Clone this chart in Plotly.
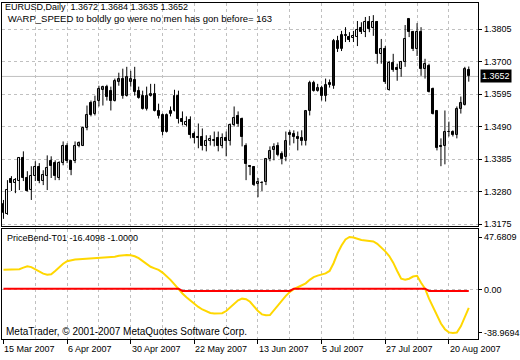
import plotly.graph_objects as go
import pandas as pd

# ---------------- data ----------------
symbol = "EURUSD,Daily"
dates = pd.bdate_range("2007-03-15", periods=118)

opens = [1.3211,1.3208,1.3320,1.3307,1.3314,1.3388,1.3324,1.3285,1.3330,1.3359,
         1.3314,1.3330,1.3378,1.3372,1.3324,1.3372,1.3429,1.3378,1.3378,1.3429,
         1.3429,1.3484,1.3567,1.3532,1.3574,1.3609,1.3619,1.3606,1.3574,1.3635,
         1.3645,1.3590,1.3635,1.3642,1.3606,1.3590,1.3548,1.3590,1.3596,1.3542,
         1.3526,1.3474,1.3532,1.3542,1.3590,1.3516,1.3494,1.3510,1.3465,1.3458,
         1.3455,1.3429,1.3445,1.3445,1.3452,1.3429,1.3452,1.3442,1.3494,1.3523,
         1.3516,1.3429,1.3362,1.3359,1.3304,1.3307,1.3311,1.3385,1.3413,1.3426,
         1.3401,1.3391,1.3468,1.3465,1.3455,1.3452,1.3442,1.3542,1.3632,1.3606,
         1.3616,1.3590,1.3632,1.3622,1.3766,1.3741,1.3786,1.3779,1.3776,1.3779,
         1.3808,1.3795,1.3827,1.3808,1.3827,1.3725,1.3741,1.3609,1.3696,1.3680,
         1.3677,1.3699,1.3837,1.3795,1.3741,1.3795,1.3677,1.3686,1.3612,1.3539,
         1.3426,1.3426,1.3471,1.3474,1.3462,1.3548,1.3561,1.3672]

highs = [1.3253,1.3317,1.3330,1.3324,1.3391,1.3410,1.3346,1.3362,1.3378,1.3372,
         1.3349,1.3397,1.3394,1.3381,1.3378,1.3442,1.3436,1.3381,1.3442,1.3442,
         1.3490,1.3558,1.3574,1.3590,1.3622,1.3622,1.3625,1.3619,1.3645,1.3664,
         1.3677,1.3683,1.3670,1.3683,1.3619,1.3606,1.3619,1.3628,1.3628,1.3564,
         1.3532,1.3532,1.3555,1.3609,1.3606,1.3539,1.3523,1.3523,1.3474,1.3500,
         1.3484,1.3462,1.3462,1.3474,1.3474,1.3468,1.3474,1.3500,1.3555,1.3539,
         1.3519,1.3436,1.3365,1.3362,1.3324,1.3314,1.3388,1.3426,1.3436,1.3439,
         1.3410,1.3474,1.3478,1.3478,1.3474,1.3478,1.3542,1.3638,1.3638,1.3628,
         1.3622,1.3645,1.3642,1.3773,1.3783,1.3799,1.3811,1.3795,1.3799,1.3831,
         1.3827,1.3844,1.3847,1.3850,1.3831,1.3773,1.3750,1.3702,1.3725,1.3693,
         1.3702,1.3818,1.3837,1.3799,1.3824,1.3811,1.3709,1.3693,1.3616,1.3539,
         1.3452,1.3542,1.3506,1.3478,1.3555,1.3587,1.3683,1.3684]

lows = [1.3192,1.3205,1.3282,1.3275,1.3285,1.3314,1.3280,1.3253,1.3314,1.3307,
        1.3301,1.3285,1.3324,1.3317,1.3317,1.3365,1.3372,1.3333,1.3372,1.3423,
        1.3427,1.3478,1.3523,1.3526,1.3555,1.3558,1.3574,1.3542,1.3571,1.3622,
        1.3580,1.3587,1.3619,1.3590,1.3580,1.3545,1.3542,1.3587,1.3539,1.3516,
        1.3462,1.3471,1.3523,1.3539,1.3500,1.3494,1.3490,1.3452,1.3436,1.3420,
        1.3413,1.3410,1.3429,1.3426,1.3410,1.3420,1.3394,1.3429,1.3490,1.3490,
        1.3426,1.3317,1.3333,1.3298,1.3262,1.3282,1.3301,1.3378,1.3381,1.3394,
        1.3368,1.3378,1.3429,1.3436,1.3413,1.3429,1.3429,1.3526,1.3603,1.3603,
        1.3574,1.3571,1.3616,1.3612,1.3731,1.3734,1.3763,1.3763,1.3763,1.3750,
        1.3789,1.3779,1.3795,1.3783,1.3693,1.3693,1.3628,1.3606,1.3667,1.3638,
        1.3651,1.3683,1.3779,1.3734,1.3718,1.3654,1.3645,1.3600,1.3529,1.3413,
        1.3362,1.3368,1.3458,1.3458,1.3452,1.3532,1.3558,1.3635]

closes = [1.3240,1.3285,1.3307,1.3317,1.3388,1.3324,1.3282,1.3330,1.3359,1.3314,
          1.3333,1.3356,1.3362,1.3330,1.3372,1.3429,1.3378,1.3349,1.3429,1.3436,
          1.3484,1.3526,1.3526,1.3571,1.3612,1.3619,1.3587,1.3574,1.3638,1.3645,
          1.3590,1.3651,1.3645,1.3603,1.3584,1.3548,1.3590,1.3596,1.3542,1.3523,
          1.3474,1.3526,1.3539,1.3590,1.3516,1.3506,1.3506,1.3462,1.3452,1.3452,
          1.3429,1.3442,1.3449,1.3447,1.3429,1.3452,1.3445,1.3494,1.3519,1.3500,
          1.3455,1.3368,1.3359,1.3301,1.3311,1.3309,1.3385,1.3410,1.3423,1.3397,
          1.3385,1.3442,1.3462,1.3455,1.3449,1.3442,1.3539,1.3632,1.3606,1.3616,
          1.3590,1.3625,1.3625,1.3766,1.3741,1.3786,1.3783,1.3770,1.3783,1.3802,
          1.3795,1.3827,1.3805,1.3827,1.3725,1.3741,1.3635,1.3696,1.3673,1.3673,
          1.3699,1.3773,1.3795,1.3741,1.3795,1.3677,1.3693,1.3603,1.3532,1.3420,
          1.3423,1.3474,1.3474,1.3462,1.3548,1.3567,1.3677,1.3652]

# PriceBend-T01 buffers
bend = [18.2,18.2,18.2,18.3,18.6,20.0,21.3,20.5,18.5,16.5,
        14.6,13.6,14.0,17.0,20.5,23.5,25.8,26.9,27.3,27.6,
        27.8,28.0,28.2,28.4,28.6,28.9,29.2,29.5,29.9,30.7,
        31.3,31.5,31.2,30.3,28.6,25.8,22.8,20.8,19.4,18.0,
        15.5,12.3,9.0,4.8,0.5,-3.3,-6.8,-9.9,-12.8,-15.5,
        -17.8,-19.5,-21.0,-21.4,-21.4,-21.2,-19.2,-15.8,-12.3,-9.5,
        -8.0,-8.5,-10.8,-15.0,-19.3,-22.2,-23.0,-22.8,-18.5,-13.5,
        -9.5,-5.5,-2.0,0.6,2.3,3.8,5.8,9.0,11.5,12.8,
        13.7,14.8,17.0,24.0,33.0,40.0,45.5,47.6809,47.2,45.8,
        45.0,44.6,44.2,43.7,41.5,38.5,34.7,30.5,24.5,17.0,
        10.0,9.0,10.0,12.0,12.6,6.3,1.0,-8.0,-16.0,-24.0,
        -30.5,-35.6,-38.5,-38.9694,-38.7,-33.0,-24.5,-16.4098]

signal = [1,1,1,1,1,1,1,1,1,1, 1,1,1,1,1,1,1,1,1,1,
          1,1,1,1,1,1,1,1,1,1, 1,1,1,1,1,1,1,1,1,1,
          1,1,1,1,1,-1,-1,-1,-1,-1, -1,-1,-1,-1,-1,-1,-1,-1,-1,-1,
          -1,-1,-1,-1,-1,-1,-1,-1,-1,-1, -1,-1,-1,1,1,1,1,1,1,1,
          1,1,1,1,1,1,1,1,1,1, 1,1,1,1,1,1,1,1,1,1,
          1,1,1,1,1,1,1,-1,-1,-1, -1,-1,-1,-1,-1,-1,-1,-1]

price_ticks = [1.3175, 1.3280, 1.3385, 1.3490, 1.3595, 1.3700, 1.3805]
ind_ticks = [47.6809, 0.0, -38.9694]
ind_tick_text = ["47.6809", "0.00", "-38.9694"]
indicator_name = "PriceBend-T01"
info_line = "WARP_SPEED to boldly go were no men has gon before= 163"
copyright_text = "MetaTrader, © 2001-2007 MetaQuotes Software Corp."

# ---------------- figure ----------------
W, H = 520, 360
GRID = "#c0c0c0"
DASH = "3px,3px"
FONT = "Liberation Sans"
n = len(closes)
idx = list(range(n))
xr = [-0.375, 119.375]
xdom = [2 / W, 481 / W]
ydom_main = [1 - 228 / H, 1 - 3 / H]
ydom_ind = [1 - 342 / H, 1 - 230.5 / H]
ind_range = [-44.6, 55.3]

fig = go.Figure()

wx, wy = [], []
for i in idx:
    wx += [i, i, None]
    wy += [lows[i], highs[i], None]
fig.add_trace(go.Scatter(x=wx, y=wy, mode="lines", line=dict(color="black", width=1),
                         xaxis="x", yaxis="y", hoverinfo="skip"))

bull = [i for i in idx if closes[i] >= opens[i]]
bear = [i for i in idx if closes[i] < opens[i]]
for sel, fill in ((bull, "white"), (bear, "black")):
    fig.add_trace(go.Bar(
        x=sel,
        y=[max(abs(closes[i] - opens[i]), 0.00012) for i in sel],
        base=[min(opens[i], closes[i]) for i in sel],
        width=0.5,
        marker=dict(color=fill, line=dict(color="black", width=1)),
        xaxis="x", yaxis="y"))

fig.add_trace(go.Scatter(x=idx, y=bend, mode="lines", line=dict(color="#FFD700", width=2),
                         xaxis="x2", yaxis="y2"))
fig.add_trace(go.Scatter(x=idx, y=signal, mode="lines", line=dict(color="#FF0000", width=2),
                         xaxis="x2", yaxis="y2"))
fig.add_trace(go.Scatter(x=[None], y=[None], mode="lines", xaxis="x3", yaxis="y3", hoverinfo="skip"))

common_x = dict(range=xr, showticklabels=False, zeroline=False, fixedrange=True)
frame = dict(showline=True, mirror=True, linecolor="black", linewidth=1)

fig.update_layout(
    width=W, height=H, margin=dict(l=0, r=0, t=0, b=0),
    paper_bgcolor="white", plot_bgcolor="white", showlegend=False,
    barmode="overlay", bargap=0,
    font=dict(family=FONT, size=9, color="black"),
    xaxis=dict(domain=xdom, anchor="y", tickvals=list(range(8, n, 8)), ticks="",
               showgrid=True, gridcolor=GRID, griddash=DASH, gridwidth=1, **common_x, **frame),
    yaxis=dict(domain=ydom_main, range=[1.31686, 1.38892], side="right", anchor="x",
               tickvals=price_ticks, ticktext=["%.4f" % v for v in price_ticks],
               ticks="outside", ticklen=3, tickcolor="black",
               showgrid=True, gridcolor=GRID, griddash=DASH, gridwidth=1,
               zeroline=False, fixedrange=True, **frame),
    xaxis2=dict(domain=xdom, anchor="y2", tickvals=list(range(8, n, 8)), ticks="",
                showgrid=True, gridcolor=GRID, griddash=DASH, gridwidth=1, **common_x, **frame),
    yaxis2=dict(domain=ydom_ind, range=ind_range, side="right", anchor="x2",
                tickvals=ind_ticks, ticktext=ind_tick_text, ticks="outside", ticklen=3,
                tickcolor="black", showgrid=False, zeroline=False, fixedrange=True, **frame),
    xaxis3=dict(overlaying="x2", anchor="y2", tickvals=list(range(0, n, 16)),
                ticks="outside", ticklen=4, tickcolor="black", showgrid=False,
                showline=False, **common_x),
    yaxis3=dict(overlaying="y2", anchor="x2", range=ind_range, tickvals=[0],
                showticklabels=False, ticks="", showgrid=True, gridcolor=GRID,
                griddash=DASH, showline=False, zeroline=False, fixedrange=True),
)

# current price line
fig.add_shape(type="line", xref="x domain", yref="y", x0=0, x1=1,
              y0=closes[-1], y1=closes[-1], line=dict(color=GRID, width=1), layer="below")

ann = []
nb = "\u00a0"
ann.append(dict(xref="paper", yref="paper", x=3 / W, y=1 - 7.5 / H, xanchor="left", yanchor="middle",
                text=f"{symbol}{nb}{nb}{opens[-1]:.4f} {highs[-1]:.4f} {lows[-1]:.4f} {closes[-1]:.4f}",
                showarrow=False, font=dict(size=9)))
ann.append(dict(xref="paper", yref="paper", x=3 / W, y=1 - 18.3 / H, xanchor="left", yanchor="middle",
                text=nb + info_line, showarrow=False, font=dict(size=9.5)))
ann.append(dict(xref="paper", yref="paper", x=5 / W, y=1 - 240 / H, xanchor="left", yanchor="middle",
                text=f"{indicator_name} {bend[-1]:.4f} {signal[-1]:.4f}", showarrow=False, font=dict(size=9)))
ann.append(dict(xref="paper", yref="paper", x=4 / W, y=1 - 334 / H, xanchor="left", yanchor="middle",
                text=copyright_text, showarrow=False, font=dict(size=10)))
for i in range(0, n, 16):
    d = dates[i]
    ann.append(dict(xref="x2", yref="paper", x=i - 0.3, y=1 - 352 / H, xanchor="left", yanchor="middle",
                    text=f"{d.day} {d.strftime('%b %Y')}", showarrow=False, font=dict(size=9)))
ann.append(dict(xref="paper", yref="y", x=482.5 / W, y=closes[-1], xanchor="left", yanchor="middle",
                text=f"{closes[-1]:.4f}", showarrow=False, bgcolor="black", borderpad=1,
                font=dict(size=9, color="white")))
fig.update_layout(annotations=ann)

fig.write_html("out.html")
